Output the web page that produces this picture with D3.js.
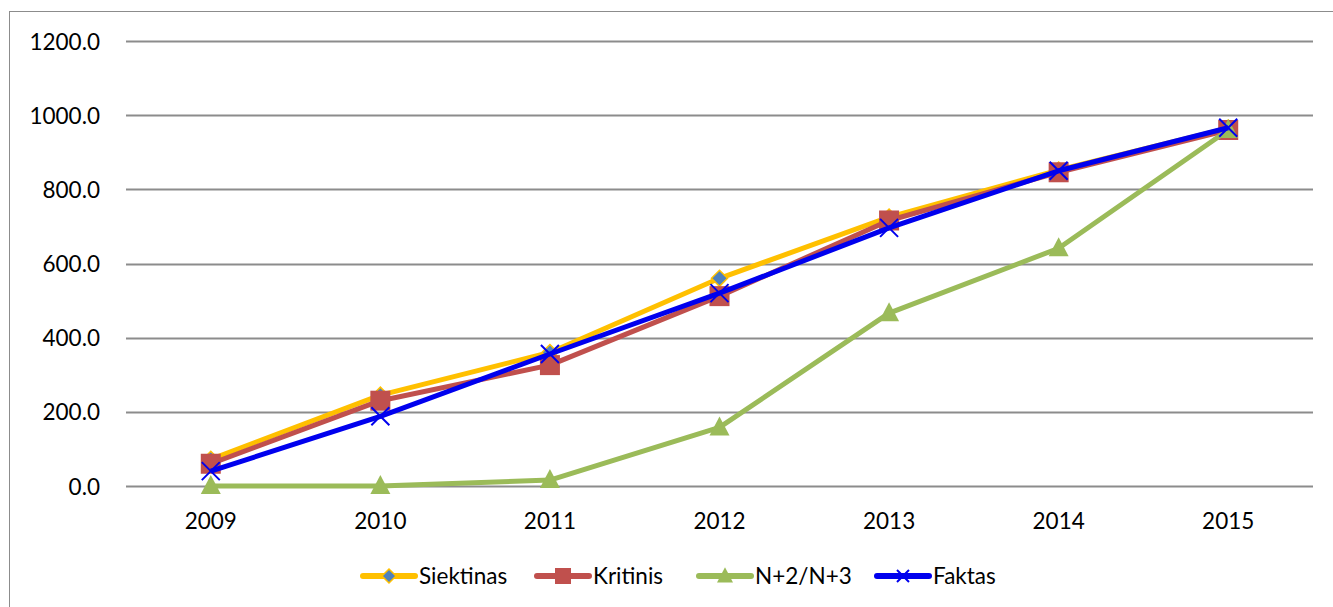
<!DOCTYPE html>
<html><head><meta charset="utf-8">
<script src="https://cdn.jsdelivr.net/npm/d3@7"></script>
<style>body{margin:0;background:#fff}svg{display:block}text{font-family:Lato,"Open Sans",sans-serif}</style>
</head><body><svg id="c" width="1333" height="607"></svg>
<script>
const years = ["2009","2010","2011","2012","2013","2014","2015"];
const siektinas = [72, 245, 360, 560, 725, 852, 965];
const kritinis  = [60, 230, 326, 512, 716, 846, 960];
const n2n3      = [0, 0, 16, 158, 466, 641, 960];
const faktas    = [40, 188, 356, 520, 696, 850, 966];
const yTicks = [0, 200, 400, 600, 800, 1000, 1200];
const seriesNames = ["Siektinas","Kritinis","N+2/N+3","Faktas"];

const series = [
  {name: seriesNames[0], values: siektinas, color: "#FFC000", marker: "diamond"},
  {name: seriesNames[1], values: kritinis, color: "#C0504D", marker: "square"},
  {name: seriesNames[2], values: n2n3, color: "#9BBB59", marker: "triangle"},
  {name: seriesNames[3], values: faktas, color: "#0000EE", marker: "x"}
];

const FONT = "Lato,'Open Sans',sans-serif";
const FS = 22.5;
const svg = d3.select("#c");
svg.append("rect").attr("x",9.5).attr("y",11.5).attr("width",1340).attr("height",620)
  .attr("fill","none").attr("stroke","#8c8c8c").attr("stroke-width",1);

const x = d3.scaleBand().domain(years).range([126, 1313]);
const y = d3.scaleLinear().domain([0, 1200]).range([486, 41]);

// gridlines
svg.append("g").selectAll("line").data(yTicks).join("line")
  .attr("x1",126).attr("x2",1313)
  .attr("y1",d=>Math.round(y(d))+0.5).attr("y2",d=>Math.round(y(d))+0.5)
  .attr("stroke","#8c8c8c").attr("stroke-width",2);

// y axis labels
const yAxis = d3.axisLeft(y).tickValues(yTicks).tickFormat(d=>d.toFixed(1)).tickSize(0).tickPadding(0);
const ga = svg.append("g").attr("transform","translate(100,0)").call(yAxis);
ga.select(".domain").remove();
ga.selectAll("text").attr("font-size",FS).attr("fill","#000").attr("font-family",FONT).attr("dy","0.36em");

// x axis labels
const xAxis = d3.axisBottom(x).tickSize(0).tickPadding(0);
const gx = svg.append("g").attr("transform","translate(0,529)").call(xAxis);
gx.select(".domain").remove();
gx.selectAll("text").attr("font-size",FS).attr("fill","#000").attr("dy",null).attr("y",0).attr("font-family",FONT);

const cx = d => x(d) + x.bandwidth()/2;

function drawMarker(g, type, color, px, py, s) {
  if (type === "diamond") {
    g.append("path").attr("d", `M${px},${py-s}L${px+s},${py}L${px},${py+s}L${px-s},${py}Z`)
      .attr("fill","#4F81BD").attr("stroke",color).attr("stroke-width",1.5);
  } else if (type === "square") {
    g.append("rect").attr("x",px-s).attr("y",py-s).attr("width",2*s).attr("height",2*s).attr("fill",color);
  } else if (type === "triangle") {
    g.append("path").attr("d", `M${px},${py-s*1.1}L${px+s},${py+s*0.8}L${px-s},${py+s*0.8}Z`).attr("fill",color);
  } else if (type === "x") {
    g.append("path").attr("d", `M${px-s},${py-s}L${px+s},${py+s}M${px-s},${py+s}L${px+s},${py-s}`)
      .attr("stroke",color).attr("stroke-width",2).attr("fill","none");
  }
}
const msize = {diamond: 8, square: 10, triangle: 10, x: 9};

const line = d3.line().x(d=>cx(d[0])).y(d=>y(d[1]));
series.forEach(s => {
  const g = svg.append("g");
  const pts = years.map((yr,i)=>[yr, s.values[i]]);
  g.append("path").datum(pts).attr("d", line).attr("fill","none")
    .attr("stroke", s.color).attr("stroke-width", 5).attr("stroke-linejoin","round");
  pts.forEach(p => drawMarker(g, s.marker, s.color, cx(p[0]), y(p[1]), msize[s.marker]));
});

// legend
const legendX = [363, 537, 699, 877];
const legendY = 576;
series.forEach((s,i) => {
  const g = svg.append("g");
  const x0 = legendX[i];
  g.append("line").attr("x1",x0).attr("x2",x0+52).attr("y1",legendY).attr("y2",legendY)
    .attr("stroke",s.color).attr("stroke-width",6).attr("stroke-linecap","round");
  drawMarker(g, s.marker, s.color, x0+26, legendY, s.marker==="x"?6:(s.marker==="diamond"?7:8));
  g.append("text").attr("x",x0+56).attr("y",legendY).attr("dy","0.36em")
    .attr("font-size",FS).attr("fill","#000").text(s.name);
});
</script></body></html>
